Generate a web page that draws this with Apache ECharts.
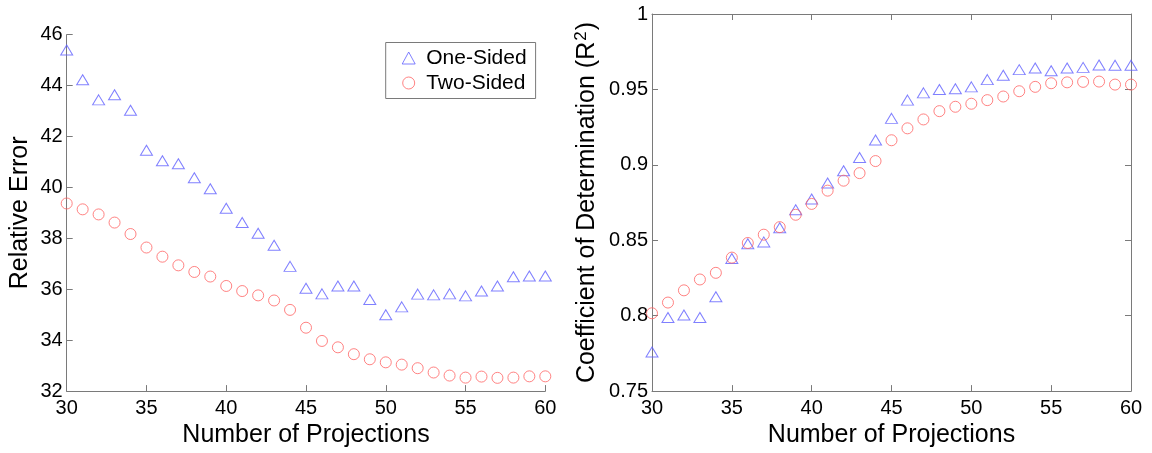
<!DOCTYPE html>
<html>
<head>
<meta charset="utf-8">
<script src="https://cdn.jsdelivr.net/npm/echarts@6/dist/echarts.min.js"></script>
<style>
html,body{margin:0;padding:0;background:#fff;}
#chart{width:1152px;height:453px;}
</style>
</head>
<body>
<div id="chart"></div>
<script>
// ---- data ----
const projections = [30,31,32,33,34,35,36,37,38,39,40,41,42,43,44,45,46,47,48,49,50,51,52,53,54,55,56,57,58,59,60];
const errOneSided = [45.40,44.23,43.44,43.64,43.03,41.46,41.05,40.93,40.38,39.95,39.18,38.62,38.20,37.73,36.90,36.04,35.82,36.13,36.13,35.60,35.00,35.31,35.81,35.78,35.82,35.74,35.93,36.13,36.49,36.52,36.52];
const errTwoSided = [39.37,39.14,38.94,38.62,38.17,37.64,37.28,36.94,36.68,36.50,36.13,35.93,35.76,35.56,35.19,34.49,33.97,33.72,33.45,33.25,33.13,33.04,32.90,32.73,32.61,32.53,32.57,32.52,32.53,32.58,32.58];
const r2OneSided = [0.7759,0.7988,0.8005,0.7988,0.8126,0.8379,0.8477,0.8489,0.8583,0.8702,0.8774,0.8880,0.8961,0.9049,0.9165,0.9308,0.9429,0.9477,0.9499,0.9504,0.9517,0.9565,0.9594,0.9631,0.9642,0.9624,0.9642,0.9646,0.9662,0.9660,0.9660];
const r2TwoSided = [0.8016,0.8087,0.8168,0.8240,0.8284,0.8385,0.8482,0.8537,0.8587,0.8669,0.8741,0.8829,0.8895,0.8945,0.9025,0.9163,0.9242,0.9301,0.9356,0.9385,0.9405,0.9429,0.9453,0.9488,0.9517,0.9541,0.9547,0.9550,0.9552,0.9532,0.9532];
const seriesNames = ['One-Sided','Two-Sided'];

const BLUE = '#6060ff';
const RED = '#ff6464';
const AXIS = '#7a7a7a';
const FONT = 'Liberation Sans, Arial, sans-serif';

function pairs(xs, ys){ return xs.map((x,i)=>[x, ys[i]]); }

const xTickLabel = {color:'#000', fontSize:20, fontFamily:FONT, margin:7};
const yTickLabel = {color:'#000', fontSize:20, fontFamily:FONT, margin:4};
const nameStyle = {color:'#000', fontSize:25, fontFamily:FONT};

function mainX(grid){
  return {
    type:'value', gridIndex:grid, min:30, max:60, interval:5,
    name:'Number of Projections', nameLocation:'middle', nameGap:27, nameTextStyle:nameStyle,
    axisLine:{show:true, lineStyle:{color:AXIS, width:1}},
    axisTick:{show:true, inside:true, length:6, lineStyle:{color:AXIS}},
    axisLabel:xTickLabel, splitLine:{show:false}
  };
}

const option = {
  animation:false,
  backgroundColor:'#fff',
  grid:[
    {left:66.7, top:34.7, width:478.6, height:357.6},
    {left:652, top:14, width:479, height:379.3}
  ],
  legend:{
    orient:'vertical', left:385.7, top:42.5,
    borderColor:AXIS, borderWidth:1, backgroundColor:'#fff',
    padding:[5,9,5,16], itemGap:4, itemWidth:13, itemHeight:12,
    textStyle:{color:'#000', fontSize:21, fontFamily:FONT, padding:[0,0,0,6]},
    data:[
      {name:seriesNames[0], icon:'triangle', itemStyle:{color:'rgba(0,0,0,0)', borderColor:BLUE, borderWidth:1}},
      {name:seriesNames[1], icon:'circle', itemStyle:{color:'rgba(0,0,0,0)', borderColor:RED, borderWidth:1}}
    ]
  },
  xAxis:[
    mainX(0),
    mainX(1),
    {type:'value', gridIndex:1, position:'top', min:30, max:60, interval:5,
     axisLine:{show:true, lineStyle:{color:AXIS}}, axisTick:{show:true, inside:true, length:6, lineStyle:{color:AXIS}},
     axisLabel:{show:false}, splitLine:{show:false}}
  ],
  yAxis:[
    {type:'value', gridIndex:0, min:32, max:46, interval:2,
     name:'Relative Error', nameLocation:'middle', nameGap:34, nameTextStyle:nameStyle,
     axisLine:{show:true, lineStyle:{color:AXIS}}, axisTick:{show:true, inside:true, length:6, lineStyle:{color:AXIS}},
     axisLabel:yTickLabel, splitLine:{show:false}},
    {type:'value', gridIndex:1, min:0.75, max:1, interval:0.05,
     name:'Coefficient of Determination (R{sup|2})', nameLocation:'middle', nameGap:50,
     nameTextStyle:Object.assign({}, nameStyle, {rich:{sup:{fontSize:17, fontFamily:FONT, color:'#000', verticalAlign:'top', padding:[0,1,12,1]}}}),
     axisLine:{show:true, lineStyle:{color:AXIS}}, axisTick:{show:true, inside:true, length:6, lineStyle:{color:AXIS}},
     axisLabel:yTickLabel, splitLine:{show:false}},
    {type:'value', gridIndex:1, position:'right', min:0.75, max:1, interval:0.05,
     axisLine:{show:true, lineStyle:{color:AXIS}}, axisTick:{show:true, inside:true, length:6, lineStyle:{color:AXIS}},
     axisLabel:{show:false}, splitLine:{show:false}}
  ],
  series:[
    {name:seriesNames[0], type:'scatter', xAxisIndex:0, yAxisIndex:0, symbol:'triangle', symbolSize:[12,10],
     itemStyle:{color:'rgba(0,0,0,0)', borderColor:BLUE, borderWidth:1}, data:pairs(projections, errOneSided)},
    {name:seriesNames[1], type:'scatter', xAxisIndex:0, yAxisIndex:0, symbol:'circle', symbolSize:11,
     itemStyle:{color:'rgba(0,0,0,0)', borderColor:RED, borderWidth:1}, data:pairs(projections, errTwoSided)},
    {name:seriesNames[0], type:'scatter', xAxisIndex:1, yAxisIndex:1, symbol:'triangle', symbolSize:[12,10],
     itemStyle:{color:'rgba(0,0,0,0)', borderColor:BLUE, borderWidth:1}, data:pairs(projections, r2OneSided)},
    {name:seriesNames[1], type:'scatter', xAxisIndex:1, yAxisIndex:1, symbol:'circle', symbolSize:11,
     itemStyle:{color:'rgba(0,0,0,0)', borderColor:RED, borderWidth:1}, data:pairs(projections, r2TwoSided)}
  ]
};

const chart = echarts.init(document.getElementById('chart'), null, {renderer:'canvas'});
chart.setOption(option);
</script>
</body>
</html>
